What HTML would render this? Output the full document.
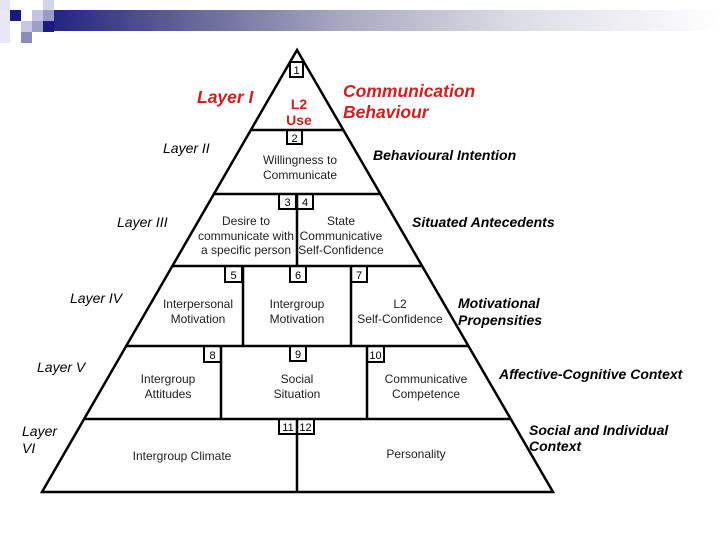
<!DOCTYPE html>
<html><head><style>
body{margin:0;width:720px;height:540px;background:#fff;position:relative;overflow:hidden;font-family:"Liberation Sans",Arial,sans-serif}
.t{position:absolute;white-space:nowrap;line-height:1}
.r{color:#d21f1f;font-weight:bold;font-style:italic;font-size:17.5px}
.l{font-style:italic;font-size:14px;color:#000}
.b{font-weight:bold;font-style:italic;font-size:14px}
.c{text-align:center;font-size:12px;line-height:14.5px;color:#222}
</style></head><body>
<div style="position:absolute;left:32px;top:10px;width:688px;height:21px;background:linear-gradient(to right,#1a1a80,#5c5c94 20%,#a8a8c0 45%,#dcdce6 70%,#fff)"></div>
<div style="position:absolute;left:0;top:0;width:10px;height:10px;background:#e4e4f2"></div>
<div style="position:absolute;left:43px;top:0;width:11px;height:10px;background:#d4d4ea"></div>
<div style="position:absolute;left:0;top:10px;width:10px;height:33px;background:#e8e8f4"></div>
<div style="position:absolute;left:10px;top:10px;width:11px;height:11px;background:#1a1a80"></div>
<div style="position:absolute;left:32px;top:10px;width:11px;height:11px;background:#c4c4e0"></div>
<div style="position:absolute;left:43px;top:10px;width:11px;height:11px;background:#9a9ac8"></div>
<div style="position:absolute;left:21px;top:21px;width:11px;height:11px;background:#c8c8e4"></div>
<div style="position:absolute;left:32px;top:21px;width:11px;height:11px;background:#9e9ec8"></div>
<div style="position:absolute;left:43px;top:21px;width:11px;height:11px;background:#1a1a80"></div>
<div style="position:absolute;left:21px;top:32px;width:11px;height:11px;background:#8c8cbc"></div>
<svg width="720" height="540" style="position:absolute;left:0;top:0" stroke="#000" stroke-width="2.5" fill="none">
<polygon points="297,50 42,492 553,492"/>
<line x1="251" y1="130" x2="343" y2="130"/>
<line x1="214" y1="194" x2="380" y2="194"/>
<line x1="172" y1="266" x2="422" y2="266"/>
<line x1="126" y1="346" x2="468" y2="346"/>
<line x1="84" y1="419" x2="510" y2="419"/>
<line x1="297" y1="194" x2="297" y2="266"/>
<line x1="243" y1="266" x2="243" y2="346"/>
<line x1="351" y1="266" x2="351" y2="346"/>
<line x1="221" y1="346" x2="221" y2="419"/>
<line x1="367" y1="346" x2="367" y2="419"/>
<line x1="297" y1="419" x2="297" y2="492"/>
<g stroke-width="2">
<rect x="290" y="62" width="13" height="15"/>
<rect x="287" y="130" width="15" height="14"/>
<rect x="279" y="194" width="17" height="15"/>
<rect x="297" y="194" width="16" height="15"/>
<rect x="225" y="266" width="17" height="16"/>
<rect x="290" y="266" width="16" height="16"/>
<rect x="351" y="266" width="16" height="16"/>
<rect x="204" y="346" width="17" height="16"/>
<rect x="290" y="346" width="16" height="15"/>
<rect x="367" y="346" width="17" height="16"/>
<rect x="279" y="419" width="18" height="15"/>
<rect x="297" y="419" width="17" height="15"/>
</g>
<g font-family="Liberation Sans,Arial,sans-serif" font-size="11" fill="#000" stroke="none" text-anchor="middle">
<text x="296.5" y="74">1</text><text x="294.5" y="142">2</text>
<text x="287.5" y="206">3</text><text x="305" y="206">4</text>
<text x="233.5" y="279">5</text><text x="298" y="279">6</text><text x="359" y="279">7</text>
<text x="212.5" y="359">8</text><text x="298" y="358">9</text><text x="375.5" y="359">10</text>
<text x="288" y="431">11</text><text x="305.5" y="431">12</text>
</g>
</svg>
<div class="t r" style="left:197px;top:89px">Layer I</div>
<div class="t" style="left:270px;top:96px;width:58px;text-align:center;color:#d21f1f;font-weight:bold;font-size:14px;line-height:16px">L2<br>Use</div>
<div class="t r" style="left:343px;top:81px;line-height:21px">Communication<br>Behaviour</div>
<div class="t l" style="left:163px;top:141px">Layer II</div>
<div class="t b" style="left:373px;top:148px">Behavioural Intention</div>
<div class="t c" style="left:250px;top:153px;width:100px">Willingness to<br>Communicate</div>
<div class="t l" style="left:117px;top:215px">Layer III</div>
<div class="t b" style="left:412px;top:215px">Situated Antecedents</div>
<div class="t c" style="left:196px;top:214px;width:100px">Desire to<br>communicate with<br>a specific person</div>
<div class="t c" style="left:298px;top:214px;width:86px">State<br>Communicative<br>Self-Confidence</div>
<div class="t l" style="left:70px;top:291px">Layer IV</div>
<div class="t b" style="left:458px;top:295px;line-height:17px">Motivational<br>Propensities</div>
<div class="t c" style="left:150px;top:297px;width:96px">Interpersonal<br>Motivation</div>
<div class="t c" style="left:246px;top:297px;width:102px">Intergroup<br>Motivation</div>
<div class="t c" style="left:352px;top:297px;width:96px">L2<br>Self-Confidence</div>
<div class="t l" style="left:37px;top:360px">Layer V</div>
<div class="t b" style="left:499px;top:367px">Affective-Cognitive Context</div>
<div class="t c" style="left:120px;top:372px;width:96px">Intergroup<br>Attitudes</div>
<div class="t c" style="left:246px;top:372px;width:102px">Social<br>Situation</div>
<div class="t c" style="left:370px;top:372px;width:112px">Communicative<br>Competence</div>
<div class="t l" style="left:22px;top:423px;line-height:17px">Layer<br>VI</div>
<div class="t b" style="left:529px;top:422px;line-height:16px">Social and Individual<br>Context</div>
<div class="t c" style="left:122px;top:449px;width:120px">Intergroup Climate</div>
<div class="t c" style="left:366px;top:447px;width:100px">Personality</div>
</body></html>
